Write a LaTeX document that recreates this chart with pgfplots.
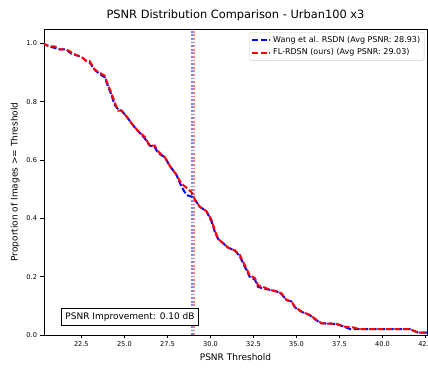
\documentclass[border=0pt]{standalone}
\usepackage{pgfplots}
\pgfplotsset{compat=1.18}
\usepackage{fontspec}
\setmainfont{DejaVu Sans}
\begin{document}
\begin{tikzpicture}
\useasboundingbox (-44pt,-36pt) rectangle (384pt,335pt);
\begin{axis}[
  at={(0pt,0pt)}, anchor=south west,
  scale only axis, width=383pt, height=306pt,
  xmin=20.33, xmax=42.58, ymin=0, ymax=1.05,
  xtick={22.5,25,27.5,30,32.5,35,37.5,40,42.5},
  ytick={0,0.2,0.4,0.6,0.8,1.0},
  xticklabel style={font=\fontsize{6.6}{7}\selectfont, /pgf/number format/.cd, fixed, fixed zerofill, precision=1},
  yticklabel style={font=\fontsize{6.6}{7}\selectfont, /pgf/number format/.cd, fixed, fixed zerofill, precision=1},
  /pgf/number format/assume math mode=true,
  scaled ticks=false,
  tick align=outside, tick pos=left,
  major tick length=3.5pt,
  axis line style={line width=0.8pt},
  every tick/.style={black, line width=0.8pt},
  title={PSNR Distribution Comparison - Urban100 x3},
  title style={font=\fontsize{11.4}{13}\selectfont, yshift=-1pt},
  xlabel={PSNR Threshold},
  ylabel={Proportion of Images >= Threshold},
  label style={font=\fontsize{9}{11}\selectfont},
  legend style={at={(0.993,0.99)}, anchor=north east, draw=gray!40, rounded corners=2pt,
    font=\fontsize{8}{10}\selectfont, inner sep=2pt, row sep=1pt},
  legend cell align=left,
  legend image code/.code={\draw[#1] (0pt,0pt) -- (18pt,0pt);},
]
\addplot[blue, line width=2pt, dash pattern=on 6pt off 2.5pt] coordinates {
(20.26,1.00) (20.66,0.99) (20.95,0.985) (21.24,0.98) (21.62,0.98) (21.92,0.965) (22.21,0.96) (22.5,0.955) (22.79,0.94) (22.98,0.935) (23.28,0.91) (23.57,0.895) (23.85,0.885) (24.04,0.855) (24.24,0.825) (24.43,0.79) (24.63,0.775) (24.83,0.77) (25.12,0.75) (25.50,0.72) (25.79,0.70) (26.18,0.675) (26.47,0.65) (26.76,0.645) (26.95,0.625) (27.35,0.61) (27.64,0.58) (28.02,0.55) (28.31,0.51) (28.61,0.48) (28.90,0.475) (29.09,0.465) (29.38,0.44) (29.76,0.425) (30.06,0.39) (30.25,0.355) (30.44,0.33) (30.73,0.315) (31.02,0.30) (31.42,0.29) (31.70,0.27) (31.99,0.235) (32.28,0.20) (32.58,0.19) (32.77,0.165) (33.06,0.16) (33.45,0.155) (33.84,0.15) (34.13,0.14) (34.42,0.12) (34.71,0.115) (34.90,0.095) (35.29,0.08) (35.77,0.068) (36.16,0.05) (36.46,0.04) (37.32,0.038) (37.71,0.03) (38.12,0.02) (41.58,0.02) (42.07,0.008) (42.58,0.008)
};
\addlegendentry{Wang et al. RSDN (Avg PSNR: 28.93)}
\addplot[red, line width=2pt, dash pattern=on 6pt off 2.5pt] coordinates {
(20.26,1.00) (20.66,0.99) (20.95,0.99) (21.24,0.98) (21.62,0.98) (21.92,0.97) (22.21,0.96) (22.5,0.955) (22.79,0.94) (22.98,0.94) (23.28,0.91) (23.57,0.90) (23.85,0.89) (24.04,0.86) (24.24,0.83) (24.43,0.80) (24.63,0.77) (24.83,0.77) (25.12,0.75) (25.50,0.72) (25.79,0.70) (26.18,0.68) (26.47,0.65) (26.76,0.65) (26.95,0.63) (27.35,0.61) (27.64,0.58) (28.02,0.55) (28.31,0.52) (28.61,0.505) (28.90,0.49) (29.09,0.465) (29.38,0.44) (29.76,0.425) (30.06,0.395) (30.25,0.36) (30.44,0.33) (30.73,0.315) (31.02,0.30) (31.42,0.29) (31.70,0.275) (31.99,0.24) (32.28,0.205) (32.58,0.195) (32.77,0.17) (33.06,0.165) (33.45,0.155) (33.84,0.149) (34.13,0.143) (34.42,0.12) (34.71,0.115) (34.90,0.097) (35.29,0.08) (35.77,0.069) (36.16,0.052) (36.46,0.04) (37.32,0.038) (37.71,0.029) (38.29,0.026) (38.68,0.02) (41.58,0.02) (42.07,0.008) (42.58,0.008)
};
\addlegendentry{FL-RDSN (ours) (Avg PSNR: 29.03)}
\addplot[blue, opacity=0.5, line width=1.5pt, dash pattern=on 1.8pt off 1.8pt, forget plot] coordinates {(28.93,0) (28.93,1.05)};
\addplot[red, opacity=0.5, line width=1.5pt, dash pattern=on 1.8pt off 1.8pt, forget plot] coordinates {(29.03,0) (29.03,1.05)};
\node[draw=black, fill=white, line width=0.6pt, font=\fontsize{9}{11}\selectfont, inner sep=4pt] at (rel axis cs:0.2245,0.060) {PSNR Improvement: 0.10 dB};
\end{axis}
\end{tikzpicture}
\end{document}
